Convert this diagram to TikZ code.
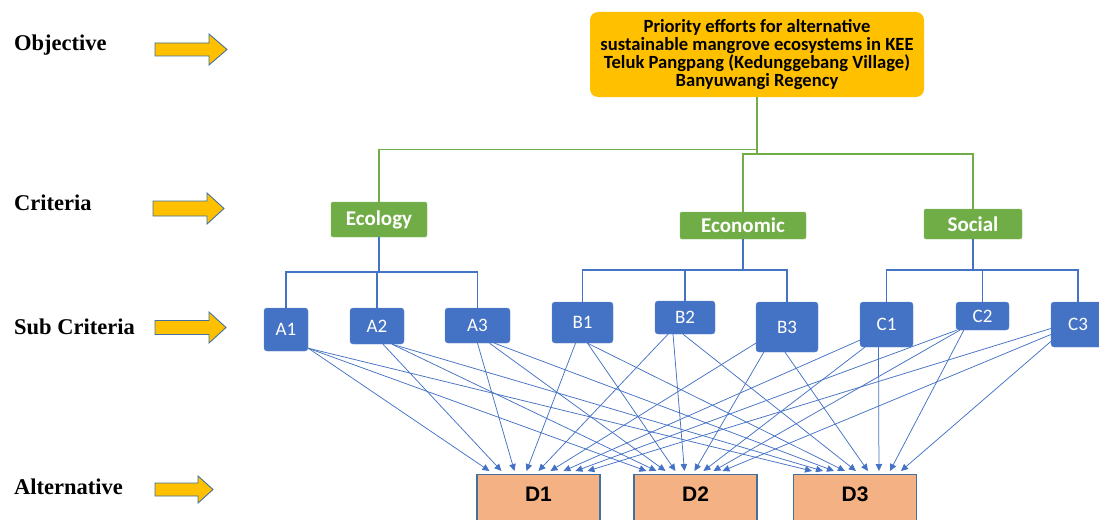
\documentclass[tikz,border=0pt]{standalone}
\usepackage{fontspec}
\setmainfont{Liberation Serif}
\newfontfamily\calfont{Carlito}
\newfontfamily\arlfont{Liberation Sans}
\usetikzlibrary{arrows.meta}
\definecolor{gold}{HTML}{FFC000}
\definecolor{grn}{HTML}{70AD47}
\definecolor{blu}{HTML}{4472C4}
\definecolor{peach}{HTML}{F4B183}
\definecolor{dblu}{HTML}{41719C}
\newcommand\blkarrow[6]{%
  \draw[larrow] (#1,#4-#5) -- (#3,#4-#5) -- (#3,#4-#6) -- (#2,#4) -- (#3,#4+#6) -- (#3,#4+#5) -- (#1,#4+#5) -- cycle;}
\begin{document}
\begin{tikzpicture}[x=1pt,y=-1pt,
  larrow/.style={fill=gold,draw=dblu,line width=0.9pt,line join=miter},
  lab/.style={anchor=west,inner sep=0pt,font=\bfseries\fontsize{22.5}{24}\selectfont},
  obj/.style={fill=gold,rounded corners=8pt,minimum width=334pt,minimum height=85pt,inner sep=0pt,align=center,
    font=\calfont\bfseries\fontsize{18.6}{17.8}\selectfont},
  crit/.style={fill=grn,draw=grn!85!white,rounded corners=2pt,inner sep=0pt,text=white,
    font=\calfont\bfseries\fontsize{21}{22}\selectfont},
  sub/.style={fill=blu,draw=blu!85!white,rounded corners=3pt,inner sep=0pt,text=white,
    font=\calfont\fontsize{19}{20}\selectfont},
  alt/.style={fill=peach,draw=dblu,line width=1.1pt,anchor=north,minimum width=123pt,inner xsep=0pt,inner ysep=14pt,
    text height=13pt,text depth=30pt,font=\arlfont\bfseries\fontsize{21}{22}\selectfont},
  gline/.style={draw=grn,line width=1.2pt},
  bline/.style={draw=blu,line width=1.6pt},
  arr/.style={draw=blu,line width=0.75pt,-{Triangle[length=7pt,width=6.5pt]}}]
\path[use as bounding box] (0,0) rectangle (1099,519);
\clip (0,0) rectangle (1099,519);

% left labels and block arrows
\node[lab] (lobj) at (14,45) {Objective};
\node[lab] (lcrit) at (14,203) {Criteria};
\node[lab] (lsub) at (14,327) {Sub Criteria};
\node[lab] (lalt) at (14,487) {Alternative};
\blkarrow{155}{227}{209}{49.5}{6.5}{15.5}
\blkarrow{153}{224}{207}{208.5}{7.5}{15.5}
\blkarrow{155}{226}{209}{327.5}{7}{15.5}
\blkarrow{155}{213}{198}{489.5}{6.5}{13.5}

% objective
\node[obj] (obj) at (757,54.5) {Priority efforts for alternative\\sustainable mangrove ecosystems in KEE\\Teluk Pangpang (Kedunggebang Village)\\Banyuwangi Regency};

% criteria
\node[crit,minimum width=96pt,minimum height=35pt] (eco) at (379,219.5) {Ecology};
\node[crit,minimum width=126pt,minimum height=27pt] (econ) at (743,225.5) {Economic};
\node[crit,minimum width=98pt,minimum height=30pt] (soc) at (973,224) {Social};

% sub criteria
\node[sub,minimum width=44pt,minimum height=43pt] (A1) at (286,329.5) {A1};
\node[sub,minimum width=54pt,minimum height=36pt] (A2) at (377,326) {A2};
\node[sub,minimum width=65pt,minimum height=35pt] (A3) at (477.5,325.5) {A3};
\node[sub,minimum width=61pt,minimum height=41pt] (B1) at (582.5,322.5) {B1};
\node[sub,minimum width=60pt,minimum height=33pt] (B2) at (685,317.5) {B2};
\node[sub,minimum width=62pt,minimum height=50pt] (B3) at (787,327) {B3};
\node[sub,minimum width=53pt,minimum height=45pt] (C1) at (886.5,324.5) {C1};
\node[sub,minimum width=53pt,minimum height=28pt] (C2) at (982.5,316) {C2};
\node[sub,minimum width=54pt,minimum height=45pt] (C3) at (1078,324.5) {C3};

% alternatives
\node[alt] (D1) at (538.5,474) {D1};
\node[alt] (D2) at (695.5,474) {D2};
\node[alt] (D3) at (855,474) {D3};

% green connectors
\coordinate (gy1) at (0,149.5);
\coordinate (gy2) at (0,154);
\draw[gline] (obj.south) -- (obj.south |- gy2);
\draw[gline] (eco.north) -- (eco.north |- gy1) -- (obj.south |- gy1);
\draw[gline] (econ.north) -- (econ.north |- gy2) -- (soc.north |- gy2) -- (soc.north);

% blue tree connectors
\coordinate (by1) at (0,272);
\coordinate (by2) at (0,270);
\draw[bline] (eco.south) -- (eco.south |- by1);
\draw[bline] (A1.north) |- (by1 -| A3.north) -- (A3.north);
\draw[bline] (A2.north) -- (A2.north |- by1);
\draw[bline] (econ.south) -- (econ.south |- by2);
\draw[bline] (B1.north) |- (by2 -| B3.north) -- (B3.north);
\draw[bline] (B2.north) -- (B2.north |- by2);
\draw[bline] (soc.south) -- (soc.south |- by2);
\draw[bline] (C1.north) |- (by2 -| C3.north) -- (C3.north);
\draw[bline] (C2.north) -- (C2.north |- by2);

% arrows to D1
\draw[arr] ([shift={(0,-3)}]A1.south east) -- ([shift={(13,-3)}]D1.north west);
\draw[arr] ([shift={(6,0)}]A2.south) -- ([shift={(25,-3)}]D1.north west);
\draw[arr] (A3.south) -- ([shift={(38,-3)}]D1.north west);
\draw[arr] ([shift={(-7,0)}]B1.south) -- ([shift={(50,-3)}]D1.north west);
\draw[arr] ([shift={(-17,0)}]B2.south) -- ([shift={(62,-3)}]D1.north west);
\draw[arr] ([shift={(0,-9)}]B3.south west) -- ([shift={(74,-3)}]D1.north west);
\draw[arr] ([shift={(0,-7)}]C1.south west) -- ([shift={(87,-3)}]D1.north west);
\draw[arr] ([shift={(1,0)}]C2.south west) -- ([shift={(99,-3)}]D1.north west);
\draw[arr] ([shift={(0,4)}]C3.west) -- ([shift={(111,-3)}]D1.north west);
% arrows to D2
\draw[arr] ([shift={(0,-3)}]A1.south east) -- ([shift={(13,-3)}]D2.north west);
\draw[arr] ([shift={(15,0)}]A2.south) -- ([shift={(23,-3)}]D2.north west);
\draw[arr] ([shift={(12,0)}]A3.south) -- ([shift={(32,-3)}]D2.north west);
\draw[arr] ([shift={(5,0)}]B1.south) -- ([shift={(42,-3)}]D2.north west);
\draw[arr] ([shift={(-12,0)}]B2.south) -- ([shift={(51,-3)}]D2.north west);
\draw[arr] ([shift={(8,0)}]B3.south west) -- ([shift={(61,-3)}]D2.north west);
\draw[arr] ([shift={(5,0)}]C1.south west) -- ([shift={(70,-3)}]D2.north west);
\draw[arr] ([shift={(4,0)}]C2.south west) -- ([shift={(80,-3)}]D2.north west);
\draw[arr] ([shift={(0,10)}]C3.west) -- ([shift={(89,-3)}]D2.north west);
% arrows to D3
\draw[arr] ([shift={(0,-3)}]A1.south east) -- ([shift={(19,-3)}]D3.north west);
\draw[arr] ([shift={(15,0)}]A2.south) -- ([shift={(30,-3)}]D3.north west);
\draw[arr] ([shift={(17,0)}]A3.south) -- ([shift={(41,-3)}]D3.north west);
\draw[arr] ([shift={(5,0)}]B1.south) -- ([shift={(52,-3)}]D3.north west);
\draw[arr] ([shift={(-2,0)}]B2.south) -- ([shift={(63,-3)}]D3.north west);
\draw[arr] ([shift={(-2,0)}]B3.south) -- ([shift={(75,-3)}]D3.north west);
\draw[arr] ([shift={(-8,0)}]C1.south) -- ([shift={(86,-3)}]D3.north west);
\draw[arr] ([shift={(8,0)}]C2.south west) -- ([shift={(97,-3)}]D3.north west);
\draw[arr] ([shift={(0,17)}]C3.west) -- ([shift={(108,-3)}]D3.north west);
\end{tikzpicture}
\end{document}
